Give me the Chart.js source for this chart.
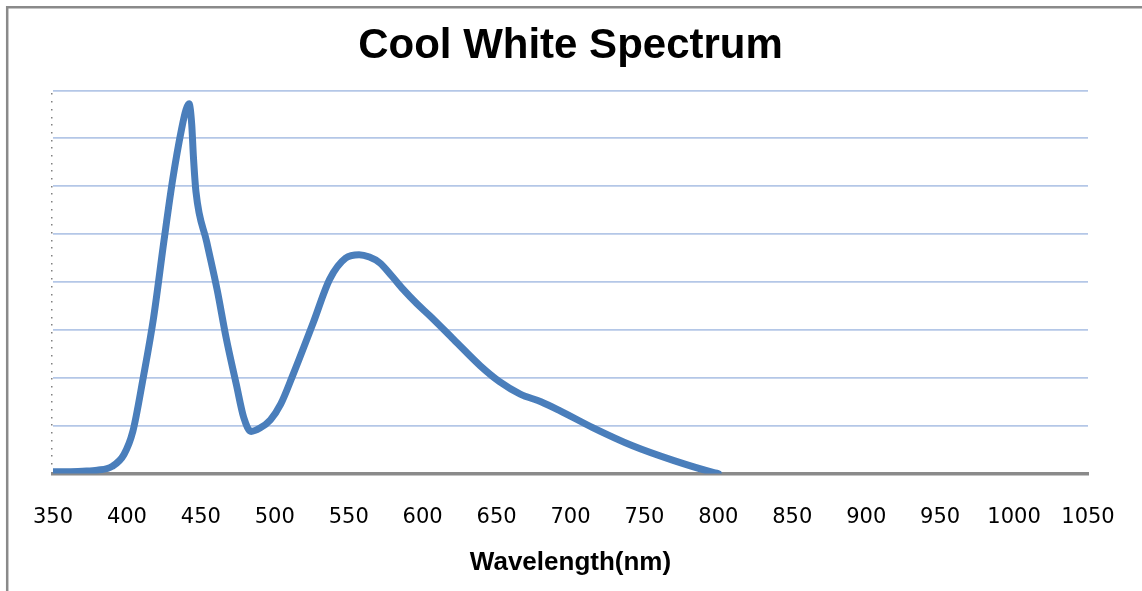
<!DOCTYPE html>
<html>
<head>
<meta charset="utf-8">
<script src="https://cdn.jsdelivr.net/npm/chart.js@4.4.0/dist/chart.umd.min.js"></script>
<style>
  html, body { margin: 0; padding: 0; background: #fff; }
  #wrap { width: 1142px; height: 591px; position: relative; }
</style>
</head>
<body>
<div id="wrap"><canvas id="spectrumChart" width="1142" height="591"></canvas></div>
<script>
// wavelength (nm) and relative intensity
const wavelengths = [350, 360, 370, 380, 390, 398, 404, 411, 418, 425, 431, 437, 440, 442, 443.8, 445, 446.7, 454, 461, 467, 474, 479, 484, 490, 497, 504, 512, 526, 537, 548, 557, 564, 571, 579, 587, 596, 605, 621, 639, 652, 666, 680, 693, 715, 742, 770, 797, 800];
const intensity = [0.04, 0.04, 0.05, 0.07, 0.15, 0.4, 0.88, 2.0, 3.25, 4.85, 6.15, 7.2, 7.6, 7.72, 7.3, 6.6, 5.88, 4.83, 3.84, 2.85, 1.86, 1.17, 0.88, 0.95, 1.12, 1.45, 2.04, 3.15, 4.05, 4.5, 4.57, 4.52, 4.4, 4.13, 3.84, 3.55, 3.29, 2.8, 2.25, 1.92, 1.66, 1.5, 1.31, 0.96, 0.58, 0.27, 0.02, 0];
const xMin = 350, xMax = 1050, xStep = 50;
const yMin = 0, yMax = 8;

const points = wavelengths.map((w, i) => ({ x: w, y: intensity[i] }));

// grey frame on the top and left edge, dotted left axis
const framePlugin = {
    id: 'frame',
    beforeDraw(chart) {
        const ctx = chart.ctx;
        ctx.save();
        ctx.fillStyle = '#fff';
        ctx.fillRect(0, 0, chart.width, chart.height);
        ctx.strokeStyle = '#8a8a8a';
        ctx.lineWidth = 2.5;
        ctx.beginPath();
        ctx.moveTo(7.2, chart.height);
        ctx.lineTo(7.2, 7.2);
        ctx.lineTo(chart.width, 7.2);
        ctx.stroke();
        ctx.restore();
    },
    afterDraw(chart) {
        const ctx = chart.ctx;
        const a = chart.chartArea;
        ctx.save();
        ctx.fillStyle = '#808080';
        for (let y = a.top + 3; y < a.bottom - 3; y += 7.7) {
            ctx.fillRect(a.left - 2, Math.round(y), 1.5, 1.5);
        }
        ctx.restore();
    }
};

new Chart(document.getElementById('spectrumChart'), {
    type: 'line',
    data: {
        datasets: [{
            label: 'Cool White',
            data: points,
            borderColor: '#4a7ebb',
            borderWidth: 7,
            pointRadius: 0,
            fill: false,
            cubicInterpolationMode: 'monotone',
            borderCapStyle: 'round',
            borderJoinStyle: 'round'
        }]
    },
    options: {
        responsive: false,
        animation: false,
        layout: { padding: { left: 53, right: 54, top: 0, bottom: 13 } },
        plugins: {
            legend: { display: false },
            tooltip: { enabled: false },
            title: {
                display: true,
                text: 'Cool White Spectrum',
                color: '#000',
                font: { family: '"Liberation Sans", Arial, sans-serif', size: 42, weight: 'bold' },
                padding: { top: 21, bottom: 19 }
            }
        },
        scales: {
            x: {
                type: 'linear',
                min: xMin,
                max: xMax,
                ticks: {
                    stepSize: xStep,
                    color: '#000',
                    padding: 7,
                    maxRotation: 0,
                    autoSkip: false,
                    font: { family: '"DejaVu Sans", Verdana, sans-serif', size: 21 },
                    callback: (v) => String(v)
                },
                grid: { display: true, drawOnChartArea: false, tickColor: 'rgba(0,0,0,0)', tickLength: 24 },
                border: { display: true, color: '#8a8a8a', width: 3.5 },
                title: {
                    display: true,
                    text: 'Wavelength(nm)',
                    color: '#000',
                    font: { family: '"Liberation Sans", Arial, sans-serif', size: 26, weight: 'bold' },
                    padding: { top: 10, bottom: 0 }
                }
            },
            y: {
                min: yMin,
                max: yMax,
                ticks: { display: false, stepSize: 1 },
                grid: { color: '#b4c7e7', lineWidth: 1.8, drawTicks: false },
                border: { display: false }
            }
        }
    },
    plugins: [framePlugin]
});
</script>
</body>
</html>
